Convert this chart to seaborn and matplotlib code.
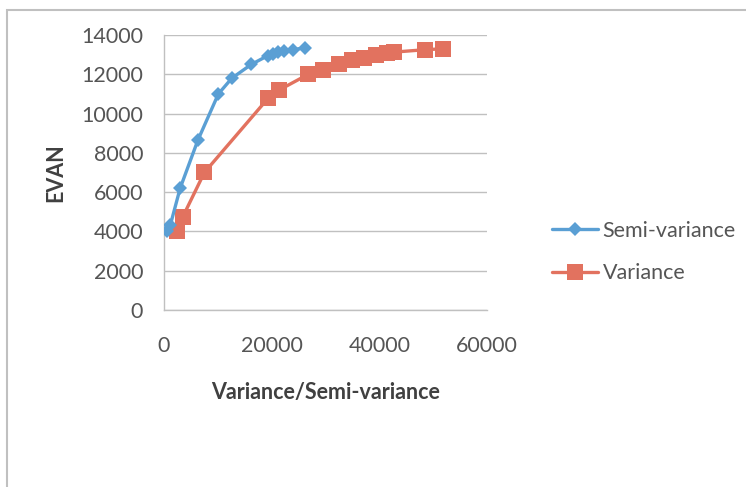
import matplotlib
matplotlib.use("Agg")
import matplotlib.pyplot as plt
import seaborn as sns
import pandas as pd
from matplotlib.patches import Rectangle

semi_x = [650, 1200, 3000, 6300, 10100, 12600, 16200, 19300, 20300, 21200, 22200, 24000, 26100]
semi_y = [4000, 4350, 6200, 8650, 11000, 11800, 12500, 12950, 13050, 13150, 13200, 13250, 13350]
var_x = [2500, 3500, 7500, 19400, 21400, 26800, 29500, 32500, 35000, 37200, 39300, 41500, 42800, 48400, 51900]
var_y = [4000, 4750, 7000, 10800, 11200, 12000, 12200, 12500, 12720, 12830, 12980, 13080, 13130, 13250, 13300]
x_ticks = [0, 20000, 40000, 60000]
y_ticks = [0, 2000, 4000, 6000, 8000, 10000, 12000, 14000]

sns.set_theme(style="white")
plt.rcParams['font.family'] = ['Lato', 'DejaVu Sans']

W, H = 746, 487
fig = plt.figure(figsize=(W / 100, H / 100), dpi=100)
ax = fig.add_axes([164 / W, 1 - 310 / H, (487 - 164) / W, (310 - 35) / H])

# outer chart border
fig.patches.append(Rectangle((7 / W, -0.2), 1.5, (1 - 10 / H) + 0.2, transform=fig.transFigure,
                             fill=False, edgecolor='#c0c0c0', linewidth=1.5))

blue = '#5a9fd4'
red = '#e2725f'

df_s = pd.DataFrame({'x': semi_x, 'y': semi_y})
df_v = pd.DataFrame({'x': var_x, 'y': var_y})
sns.lineplot(data=df_s, x='x', y='y', ax=ax, sort=False, color=blue, linewidth=2.4,
             marker='D', markersize=7.5, markeredgewidth=0, label='Semi-variance', zorder=4)
sns.lineplot(data=df_v, x='x', y='y', ax=ax, sort=False, color=red, linewidth=2.4,
             marker='s', markersize=12, markeredgewidth=0, label='Variance', zorder=3)

ax.set_xlim(0, 60000)
ax.set_ylim(0, 14000)
ax.set_xticks(x_ticks)
ax.set_yticks(y_ticks)
ax.set_xticklabels([str(v) for v in x_ticks])
ax.set_yticklabels([str(v) for v in y_ticks])
ax.yaxis.grid(True, color='#c0c0c0', linewidth=1.0)
ax.xaxis.grid(False)
ax.set_axisbelow(True)
for s in ['top', 'right']:
    ax.spines[s].set_visible(False)
for s in ['left', 'bottom']:
    ax.spines[s].set_color('#c0c0c0')
    ax.spines[s].set_linewidth(1.0)
ax.tick_params(axis='both', length=0, labelsize=15.5, labelcolor='#555555')
ax.tick_params(axis='y', pad=15)
ax.tick_params(axis='x', pad=19)

ax.set_xlabel('Variance/Semi-variance', fontsize=15.5, fontweight='bold', color='#404040')
ax.set_ylabel('EVAN', fontsize=15.5, fontweight='bold', color='#404040')
ax.xaxis.set_label_coords(0.5, (310 - 382) / 275)
ax.yaxis.set_label_coords((66 - 164) / 323, 0.5)

leg = ax.legend(loc='center left', bbox_to_anchor=(552 / W, 1 - 252 / H), bbox_transform=fig.transFigure,
                frameon=False, fontsize=15.5, handlelength=2.15, handletextpad=0.2, labelspacing=1.05,
                borderpad=0, borderaxespad=0)
for t in leg.get_texts():
    t.set_color('#555555')

fig.savefig('out.png', dpi=100)
